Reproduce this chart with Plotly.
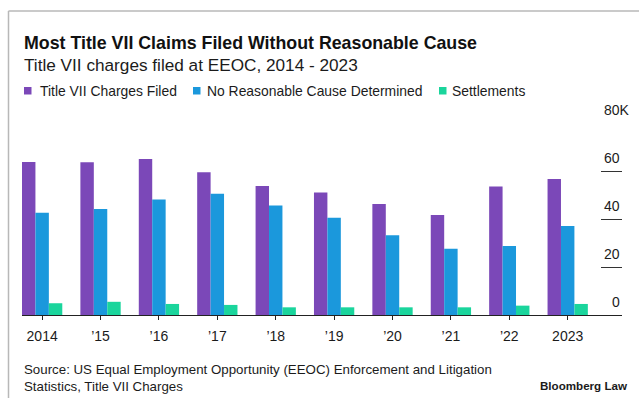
import plotly.graph_objects as go

# --- data (thousands of charges) ---
years = ["2014", "’15", "’16", "’17", "’18", "’19", "’20", "’21", "’22", "2023"]
charges_filed = [63.8, 63.6, 65.0, 59.5, 53.7, 51.0, 46.3, 41.7, 53.5, 56.7]
no_cause = [42.6, 44.2, 48.1, 50.5, 45.6, 40.5, 33.2, 27.6, 28.8, 37.1]
settlements = [4.9, 5.5, 4.6, 4.2, 3.2, 3.2, 3.2, 3.2, 3.9, 4.6]

series_names = ["Title VII Charges Filed", "No Reasonable Cause Determined", "Settlements"]
series_colors = ["#7b48b8", "#1b98dc", "#1ad59c"]
y_ticks = [0, 20, 40, 60, 80]
y_tick_text = ["0", "20", "40", "60", "80K"]

W, H = 639, 398
L, R, T, B = 22, 17, 123, 83
PW, PH = W - L - R, H - T - B
FONT = "Liberation Sans"
INK = "#1b1b1b"

BAR_W = 0.23  # width of one bar in category units; three bars sit flush per year


def px(xp):
    return (xp - L) / PW


def py(yp):
    return (H - B - yp) / PH


fig = go.Figure()
for i, (name, vals, col) in enumerate(zip(series_names, [charges_filed, no_cause, settlements],
                                          series_colors)):
    fig.add_trace(go.Bar(x=years, y=vals, name=name, width=BAR_W, offset=(i - 1.5) * BAR_W,
                         marker=dict(color=col, line=dict(width=0)), showlegend=False))

fig.update_layout(
    width=W, height=H,
    margin=dict(l=L, r=R, t=T, b=B, pad=0),
    paper_bgcolor="white", plot_bgcolor="white",
    barmode="overlay",
    font=dict(family=FONT, color=INK),
    xaxis=dict(type="category", range=[-0.345, 9.93], showline=True, linecolor="#222",
               linewidth=1.3, ticks="outside", ticklen=4, tickcolor="#222", tickwidth=1,
               ticklabelstandoff=4,
               showgrid=False, zeroline=False, tickfont=dict(size=14, color=INK, family=FONT)),
    yaxis=dict(range=[0, 80], side="right", tickvals=y_ticks, ticks="inside", ticklen=21,
               tickcolor="#333", tickwidth=1, showticklabels=False, showgrid=False,
               zeroline=False, showline=False),
)

ann = []
# titles
ann.append(dict(x=px(21.5), y=py(42.5), xref="paper", yref="paper", xanchor="left", yanchor="middle",
                text="<b>Most Title VII Claims Filed Without Reasonable Cause</b>", showarrow=False,
                font=dict(size=17.8, color="#111", family=FONT)))
ann.append(dict(x=px(21.5), y=py(65.5), xref="paper", yref="paper", xanchor="left", yanchor="middle",
                text="Title VII charges filed at EEOC, 2014 - 2023", showarrow=False,
                font=dict(size=17.2, color=INK, family=FONT)))

# legend row
legend_sq = [24, 193, 439]
legend_tx = [38, 205, 450]
shapes = []
for name, col, sx, tx in zip(series_names, series_colors, legend_sq, legend_tx):
    shapes.append(dict(type="rect", xref="paper", yref="paper", x0=px(sx), x1=px(sx + 7.5),
                       y0=py(94.5), y1=py(87), fillcolor=col, line=dict(width=0)))
    ann.append(dict(x=px(tx), y=py(91), xref="paper", yref="paper", xanchor="left", yanchor="middle",
                    text=name, showarrow=False, font=dict(size=13.9, color=INK, family=FONT)))

# y-axis labels sit above their tick lines
for v, t in zip(y_ticks, y_tick_text):
    ann.append(dict(x=1, y=v, xref="paper", yref="y", xanchor="right", yanchor="middle",
                    xshift=(10 if t.endswith("K") else 0), yshift=13, text=t, showarrow=False,
                    font=dict(size=14, color=INK, family=FONT)))

# footer
ann.append(dict(x=px(21.5), y=py(377.5), xref="paper", yref="paper", xanchor="left", yanchor="middle",
                align="left", showarrow=False,
                text="Source: US Equal Employment Opportunity (EEOC) Enforcement and Litigation<br>"
                     "Statistics, Title VII Charges",
                font=dict(size=13.3, color=INK, family=FONT)))
ann.append(dict(x=px(629.5), y=py(385), xref="paper", yref="paper", xanchor="right", yanchor="middle",
                text="<b>Bloomberg Law</b>", showarrow=False,
                font=dict(size=11.6, color=INK, family=FONT)))

# card frame (top and left edges)
shapes.append(dict(type="line", xref="paper", yref="paper", x0=px(8.5), x1=px(W + 2),
                   y0=py(11), y1=py(11), line=dict(color="#b8b8b8", width=1.5)))
shapes.append(dict(type="line", xref="paper", yref="paper", x0=px(8.5), x1=px(8.5),
                   y0=py(11), y1=py(H + 2), line=dict(color="#b8b8b8", width=1.5)))

fig.update_layout(annotations=ann, shapes=shapes)
fig.write_html("out.html")
